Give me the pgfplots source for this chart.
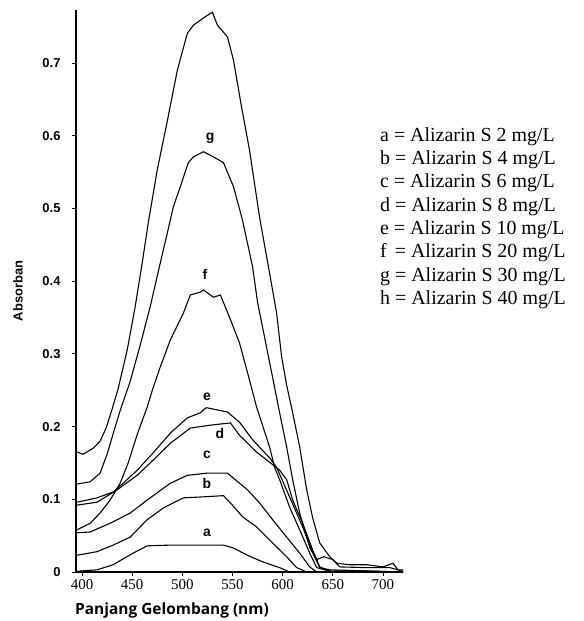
\documentclass[border=0pt]{standalone}
\usepackage{pgfplots}
\pgfplotsset{compat=1.18}
\usepackage{fontspec}
\setmainfont{Liberation Serif}
\setsansfont{Liberation Sans}
\newfontfamily\labelfont{Open Sans}
\begin{document}
\begin{tikzpicture}
\path[use as bounding box] (-76bp,-49bp) rectangle (508bp,572bp);
\begin{axis}[
  scale only axis, width=327bp, height=562bp,
  xmin=394, xmax=720, ymin=0, ymax=0.773,
  axis lines=left, axis line style={-, line width=1.1pt},
  xtick={400,450,500,550,600,650,700},
  ytick={0,0.1,0.2,0.3,0.4,0.5,0.6,0.7},
  yticklabels={0,0.1,0.2,0.3,0.4,0.5,0.6,0.7},
  tick align=outside, major tick length=4bp, tick style={line width=0.8pt, black},
  /pgf/number format/assume math mode=true,
  xticklabel style={font=\fontsize{15}{15}\selectfont\rmfamily},
  yticklabel style={font=\fontsize{13}{13}\selectfont\sffamily\bfseries, xshift=-8bp},
  clip=false,
]
% h
\addplot[black, line width=1.1pt] coordinates {
(395,0.165)(401,0.162)(411,0.170)(418,0.180)(424,0.198)(430,0.224)(436,0.252)(445,0.305)
(453,0.365)(460,0.425)(466,0.480)(475,0.553)(485,0.620)(495,0.690)(505,0.741)(511,0.752)
(521,0.762)(530,0.770)(535,0.752)(545,0.736)(551,0.704)(559,0.640)(567,0.580)(577,0.488)
(587,0.411)(594,0.356)(599,0.296)(604,0.257)(610,0.219)(617,0.172)(624,0.113)(630,0.074)
(637,0.040)(647,0.021)(654,0.012)(667,0.010)(684,0.010)(700,0.007)(710,0.012)(715,0.003)(720,0.003)};
% g
\addplot[black, line width=1.1pt] coordinates {
(395,0.121)(408,0.124)(418,0.136)(425,0.162)(431,0.190)(438,0.222)(448,0.262)(458,0.312)
(468,0.365)(478,0.425)(485,0.466)(491,0.502)(498,0.530)(506,0.563)(511,0.571)(521,0.578)
(531,0.571)(541,0.563)(551,0.530)(560,0.484)(570,0.420)(575,0.371)(584,0.309)(592,0.254)
(597,0.219)(604,0.172)(610,0.127)(617,0.081)(627,0.034)(634,0.017)(641,0.021)(650,0.017)
(657,0.007)(684,0.006)(707,0.006)(720,0.001)};
% f
\addplot[black, line width=1.1pt] coordinates {
(395,0.058)(408,0.067)(418,0.081)(428,0.099)(438,0.122)(446,0.150)(455,0.189)(465,0.227)
(471,0.254)(478,0.282)(488,0.319)(501,0.356)(508,0.381)(518,0.385)(521,0.388)(531,0.378)
(538,0.381)(548,0.347)(557,0.315)(567,0.264)(574,0.227)(587,0.172)(592,0.144)(597,0.127)
(607,0.089)(617,0.058)(627,0.026)(634,0.006)(647,0.001)(667,0.002)(720,0.0)};
% e
\addplot[black, line width=1.1pt] coordinates {
(395,0.096)(415,0.102)(431,0.110)(441,0.122)(455,0.140)(471,0.164)(488,0.191)(505,0.212)
(518,0.219)(521,0.223)(524,0.226)(545,0.220)(557,0.206)(570,0.182)(587,0.157)(594,0.144)
(607,0.103)(620,0.062)(630,0.026)(637,0.006)(647,0.003)(720,0.0)};
% d
\addplot[black, line width=1.1pt] coordinates {
(395,0.092)(415,0.096)(435,0.113)(455,0.133)(471,0.154)(488,0.177)(508,0.198)(528,0.202)
(548,0.205)(557,0.188)(574,0.165)(587,0.151)(597,0.140)(604,0.127)(610,0.099)(620,0.067)
(630,0.030)(637,0.007)(647,0.001)(720,0.0)};
% c
\addplot[black, line width=1.1pt] coordinates {
(395,0.054)(408,0.055)(428,0.067)(448,0.081)(465,0.099)(488,0.122)(505,0.133)(525,0.136)
(545,0.136)(551,0.129)(565,0.113)(577,0.095)(590,0.072)(604,0.048)(617,0.026)(627,0.007)
(634,0.0)(720,0.0)};
% b
\addplot[black, line width=1.1pt] coordinates {
(395,0.023)(415,0.028)(431,0.037)(448,0.048)(465,0.072)(481,0.088)(501,0.102)(516,0.103)
(541,0.105)(548,0.095)(560,0.076)(574,0.062)(587,0.044)(604,0.021)(614,0.006)(624,0.0)(720,0.0)};
% a
\addplot[black, line width=1.1pt] coordinates {
(395,0.001)(415,0.003)(431,0.010)(451,0.026)(465,0.036)(488,0.037)(541,0.037)(551,0.033)
(565,0.023)(580,0.014)(597,0.006)(607,0.0)(720,0.0)};
\begin{scope}[every node/.style={font=\fontsize{14}{14}\selectfont\sffamily\bfseries}]
\node at (axis cs:527.6,0.597) {g};
\node at (axis cs:522.6,0.409) {f};
\node at (axis cs:524.6,0.241) {e};
\node at (axis cs:537.5,0.191) {d};
\node at (axis cs:524.6,0.161) {c};
\node at (axis cs:524.6,0.122) {b};
\node at (axis cs:524.6,0.054) {a};
\end{scope}
\end{axis}
\node[font=\labelfont\bfseries\fontsize{15.5}{15.5}\selectfont] at (96bp,-38bp) {Panjang Gelombang (nm)};
\node[font=\sffamily\bfseries\fontsize{13}{13}\selectfont, rotate=90] at (-58bp,281bp) {Absorban};
\begin{scope}[every node/.style={anchor=west, font=\fontsize{20}{20}\selectfont, inner sep=0pt}]
\node at (304bp,435bp) {a = Alizarin S 2 mg/L};
\node at (304bp,412bp) {b = Alizarin S 4 mg/L};
\node at (304bp,389bp) {c = Alizarin S 6 mg/L};
\node at (304bp,365bp) {d = Alizarin S 8 mg/L};
\node at (304bp,342bp) {e = Alizarin S 10 mg/L};
\node at (304bp,319bp) {f\hspace{3bp} = Alizarin S 20 mg/L};
\node at (304bp,295bp) {g = Alizarin S 30 mg/L};
\node at (304bp,272bp) {h = Alizarin S 40 mg/L};
\end{scope}
\end{tikzpicture}
\end{document}
